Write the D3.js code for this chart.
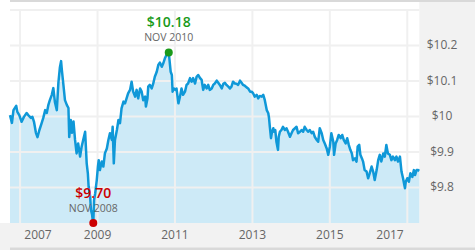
<!DOCTYPE html>
<html>
<head>
<meta charset="utf-8">
<script src="https://cdn.jsdelivr.net/npm/d3@7/dist/d3.min.js"></script>
<style>
  html, body { margin: 0; padding: 0; background: #fff; }
  svg { display: block; font-family: "Open Sans", "Noto Sans", sans-serif; }
</style>
</head>
<body>
<div id="chart"></div>
<script>
// price history (decimal year, $)
const years = [
  2006.74, 2006.79, 2006.83, 2006.90, 2006.93, 2006.98, 2007.04, 2007.10, 2007.17, 2007.21,
  2007.28, 2007.32, 2007.36, 2007.41, 2007.45, 2007.50, 2007.56, 2007.60, 2007.65, 2007.69,
  2007.73, 2007.77, 2007.82, 2007.86, 2007.90, 2007.95, 2007.99, 2008.03, 2008.06, 2008.08,
  2008.12, 2008.16, 2008.21, 2008.25, 2008.27, 2008.31, 2008.34, 2008.38, 2008.42, 2008.46,
  2008.50, 2008.55, 2008.59, 2008.63, 2008.68, 2008.72, 2008.75, 2008.77, 2008.81, 2008.83,
  2008.86, 2008.88, 2008.89, 2008.91, 2008.94, 2008.98, 2009.01, 2009.03, 2009.06, 2009.11,
  2009.15, 2009.19, 2009.24, 2009.28, 2009.32, 2009.37, 2009.39, 2009.42, 2009.45, 2009.50,
  2009.54, 2009.58, 2009.62, 2009.67, 2009.71, 2009.75, 2009.79, 2009.84, 2009.88, 2009.92,
  2009.97, 2010.01, 2010.05, 2010.10, 2010.14, 2010.18, 2010.23, 2010.25, 2010.29, 2010.31,
  2010.35, 2010.40, 2010.44, 2010.48, 2010.53, 2010.57, 2010.61, 2010.66, 2010.70, 2010.74,
  2010.79, 2010.84, 2010.86, 2010.89, 2010.92, 2010.94, 2010.97, 2011.01, 2011.04, 2011.09,
  2011.13, 2011.17, 2011.21, 2011.26, 2011.30, 2011.34, 2011.39, 2011.43, 2011.47, 2011.52,
  2011.56, 2011.60, 2011.65, 2011.69, 2011.73, 2011.77, 2011.82, 2011.86, 2011.90, 2011.95,
  2011.99, 2012.03, 2012.08, 2012.12, 2012.16, 2012.21, 2012.25, 2012.29, 2012.33, 2012.38,
  2012.42, 2012.46, 2012.50, 2012.55, 2012.59, 2012.63, 2012.68, 2012.72, 2012.76, 2012.81,
  2012.85, 2012.89, 2012.94, 2012.98, 2013.02, 2013.06, 2013.11, 2013.15, 2013.19, 2013.24,
  2013.28, 2013.32, 2013.37, 2013.41, 2013.43, 2013.45, 2013.48, 2013.50, 2013.54, 2013.56,
  2013.59, 2013.62, 2013.66, 2013.68, 2013.71, 2013.75, 2013.79, 2013.84, 2013.88, 2013.92,
  2013.97, 2014.01, 2014.05, 2014.10, 2014.14, 2014.18, 2014.23, 2014.27, 2014.31, 2014.35,
  2014.40, 2014.44, 2014.48, 2014.53, 2014.57, 2014.61, 2014.66, 2014.70, 2014.74, 2014.79,
  2014.83, 2014.87, 2014.92, 2014.96, 2015.00, 2015.04, 2015.09, 2015.11, 2015.15, 2015.19,
  2015.23, 2015.28, 2015.32, 2015.36, 2015.41, 2015.45, 2015.49, 2015.53, 2015.57, 2015.60,
  2015.65, 2015.69, 2015.72, 2015.76, 2015.79, 2015.83, 2015.86, 2015.90, 2015.95, 2015.99,
  2016.03, 2016.08, 2016.12, 2016.16, 2016.21, 2016.25, 2016.29, 2016.33, 2016.38, 2016.42,
  2016.46, 2016.50, 2016.55, 2016.59, 2016.63, 2016.68, 2016.72, 2016.76, 2016.81, 2016.85,
  2016.89, 2016.94, 2016.96, 2017.00, 2017.04, 2017.08, 2017.13, 2017.17, 2017.20, 2017.24,
  2017.28, 2017.31
];
const prices = [
  10.004, 9.982, 10.018, 10.030, 10.013, 10.004, 9.985, 9.999, 10.010, 10.004,
  9.996, 9.999, 9.985, 9.954, 9.942, 9.962, 9.982, 9.996, 10.018, 10.010,
  10.032, 10.046, 10.061, 10.080, 10.041, 10.018, 10.094, 10.139, 10.156, 10.131,
  10.089, 10.046, 10.032, 10.024, 9.942, 9.990, 9.954, 9.986, 9.934, 9.896,
  9.924, 9.887, 9.915, 9.934, 9.957, 9.868, 9.840, 9.802, 9.774, 9.737,
  9.723, 9.704, 9.700, 9.765, 9.784, 9.821, 9.859, 9.877, 9.849, 9.873,
  9.859, 9.896, 9.910, 9.934, 9.953, 9.934, 9.971, 9.868, 9.934, 9.962,
  9.990, 9.981, 10.023, 10.042, 10.037, 10.051, 10.065, 10.075, 10.098, 10.070,
  10.056, 10.075, 10.051, 10.079, 10.070, 10.046, 10.056, 10.028, 10.051, 10.084,
  10.089, 10.079, 10.093, 10.112, 10.126, 10.145, 10.152, 10.140, 10.150, 10.164,
  10.175, 10.180, 10.159, 10.126, 10.117, 10.070, 10.079, 10.075, 10.079, 10.037,
  10.056, 10.079, 10.061, 10.070, 10.089, 10.093, 10.108, 10.098, 10.108, 10.093,
  10.112, 10.117, 10.108, 10.103, 10.075, 10.089, 10.079, 10.089, 10.075, 10.079,
  10.089, 10.093, 10.101, 10.095, 10.089, 10.079, 10.092, 10.095, 10.089, 10.084,
  10.079, 10.084, 10.098, 10.093, 10.092, 10.089, 10.101, 10.095, 10.089, 10.086,
  10.082, 10.079, 10.070, 10.070, 10.065, 10.056, 10.061, 10.051, 10.058, 10.056,
  10.061, 10.046, 10.018, 10.009, 9.995, 9.971, 9.939, 9.953, 9.967, 9.957,
  9.962, 9.929, 9.906, 9.943, 9.957, 9.962, 9.971, 9.962, 9.967, 9.957,
  9.943, 9.953, 9.962, 9.967, 9.971, 9.953, 9.957, 9.962, 9.957, 9.971,
  9.962, 9.957, 9.962, 9.953, 9.957, 9.943, 9.934, 9.929, 9.967, 9.953,
  9.934, 9.924, 9.910, 9.892, 9.915, 9.953, 9.929, 9.892, 9.924, 9.934,
  9.948, 9.939, 9.948, 9.934, 9.924, 9.939, 9.920, 9.906, 9.896, 9.877,
  9.882, 9.873, 9.915, 9.920, 9.892, 9.882, 9.873, 9.849, 9.845, 9.826,
  9.840, 9.859, 9.845, 9.821, 9.849, 9.877, 9.892, 9.873, 9.896, 9.887,
  9.920, 9.896, 9.892, 9.877, 9.887, 9.877, 9.887, 9.873, 9.887, 9.845,
  9.826, 9.798, 9.816, 9.826, 9.816, 9.840, 9.830, 9.849, 9.835, 9.849,
  9.849, 9.847
];
const tickYears = [2007, 2009, 2011, 2013, 2015, 2017];
const priceTicks = [9.8, 9.9, 10, 10.1, 10.2];
const gridPrices = [9.8, 9.9, 10, 10.1, 10.2, 10.3];

const W = 475, H = 250;
const plotLeft = 10, plotRight = 419.3, plotTop = 10, plotBottom = 223;

function toDate(v) {
  const yr = Math.floor(v);
  const a = new Date(yr, 0, 1), b = new Date(yr + 1, 0, 1);
  return new Date(+a + (v - yr) * (b - a));
}

const data = years.map((v, i) => ({ date: toDate(v), value: prices[i] }));

const svg = d3.select("#chart").append("svg").attr("width", W).attr("height", H);

const x = d3.scaleTime().domain(d3.extent(data, d => d.date)).range([plotLeft, plotRight]);
const y = d3.scaleLinear().domain([d3.min(prices), 10.3]).range([plotBottom, plotTop]);

// panels
svg.append("rect").attr("x", 0).attr("y", plotBottom).attr("width", W).attr("height", H - plotBottom).attr("fill", "#f2f2f2");
svg.append("rect").attr("x", plotRight).attr("y", 0).attr("width", W - plotRight).attr("height", plotBottom).attr("fill", "#f2f2f2");
svg.append("rect").attr("x", plotLeft).attr("y", 0).attr("width", W - plotLeft).attr("height", 2).attr("fill", "#d9d9d9");
svg.append("rect").attr("x", plotLeft).attr("y", 247.5).attr("width", W - plotLeft).attr("height", 2.5).attr("fill", "#d9d9d9");

// area
const area = d3.area().x(d => x(d.date)).y0(plotBottom).y1(d => y(d.value));
svg.append("path").datum(data).attr("d", area).attr("fill", "#cdeaf7");

// grid
const grid = svg.append("g").attr("stroke", "#f0f0f0").attr("stroke-width", 2);
grid.selectAll(".h").data(gridPrices).enter().append("line")
  .attr("x1", plotLeft).attr("x2", plotRight)
  .attr("y1", d => y(d)).attr("y2", d => y(d));
grid.selectAll(".v").data(tickYears).enter().append("line")
  .attr("x1", d => x(new Date(d, 0, 1))).attr("x2", d => x(new Date(d, 0, 1)))
  .attr("y1", plotTop).attr("y2", plotBottom);

// line
const line = d3.line().x(d => x(d.date)).y(d => y(d.value));
svg.append("path").datum(data).attr("d", line)
  .attr("fill", "none").attr("stroke", "#0f98d8").attr("stroke-width", 2.5)
  .attr("stroke-linejoin", "round");

// y labels
svg.selectAll(".ylab").data(priceTicks).enter().append("text")
  .attr("x", 442).attr("y", d => y(d) - 1)
  .attr("text-anchor", "middle").attr("dominant-baseline", "central")
  .attr("font-size", "12px").attr("fill", "#666")
  .text(d => "$" + (+d.toFixed(1)));

// x labels
svg.selectAll(".xlab").data(tickYears).enter().append("text")
  .attr("x", d => Math.max(38, Math.min(390, x(new Date(d, 0, 1)))))
  .attr("y", 234.5)
  .attr("text-anchor", "middle").attr("dominant-baseline", "central")
  .attr("font-size", "12px").attr("fill", "#666")
  .text(d => d);

// min / max markers
const fmtDate = d3.timeFormat("%b %Y");
const maxPt = data[d3.maxIndex(data, d => d.value)];
const minPt = data[d3.minIndex(data, d => d.value)];

function marker(pt, color) {
  const cx = x(pt.date), cy = y(pt.value);
  svg.append("text").attr("x", cx).attr("y", cy - 31)
    .attr("text-anchor", "middle").attr("dominant-baseline", "central")
    .attr("font-size", "14px").attr("font-weight", 600).attr("fill", color)
    .text("$" + pt.value.toFixed(2));
  svg.append("text").attr("x", cx).attr("y", cy - 15.5)
    .attr("text-anchor", "middle").attr("dominant-baseline", "central")
    .attr("font-size", "10.5px").attr("fill", "#666")
    .text(fmtDate(pt.date).toUpperCase());
  svg.append("circle").attr("cx", cx).attr("cy", cy).attr("r", 4).attr("fill", color);
}
marker(maxPt, "#1a9a1a");
marker(minPt, "#cc0000");
</script>
</body>
</html>
